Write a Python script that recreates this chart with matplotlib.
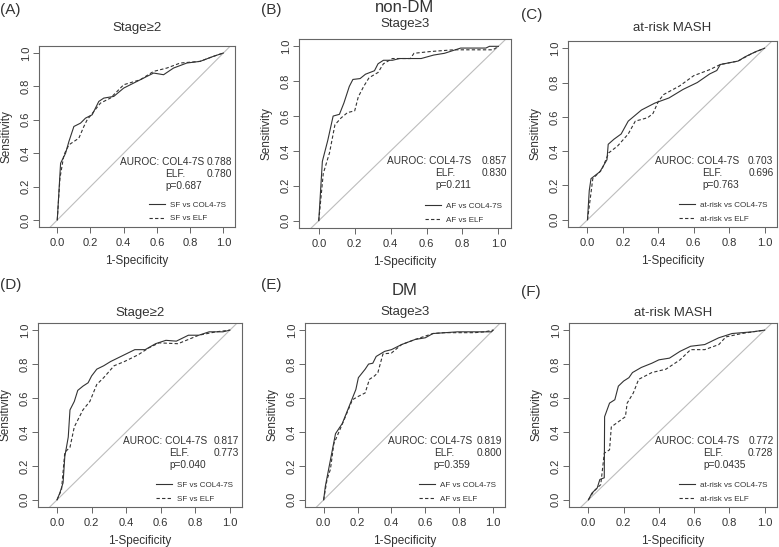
import numpy as np
import matplotlib
matplotlib.use('Agg')
import matplotlib.pyplot as plt

plt.rcParams['font.family'] = ['Liberation Sans', 'DejaVu Sans']

# ---- data (1-specificity, sensitivity) ----
a_col_x = [0, .02, .05, .07, .10, .14, .17, .21, .25, .28, .34, .40, .50, .58, .64, .70, .78, .86, .94, 1]
a_col_y = [0, .34, .40, .47, .56, .58, .61, .63, .71, .73, .74, .79, .84, .88, .87, .91, .94, .95, .98, 1]
a_elf_x = [0, .016, .04, .07, .10, .13, .16, .18, .22, .26, .32, .40, .50, .58, .66, .74, .86, .94, 1]
a_elf_y = [0, .25, .39, .45, .47, .49, .56, .60, .65, .70, .73, .81, .84, .89, .91, .94, .95, .98, 1]

b_col_x = [0, .02, .05, .08, .115, .14, .17, .19, .23, .26, .31, .33, .36, .41, .45, .57, .64, .70, .79, .93, .95, 1]
b_col_y = [0, .34, .46, .60, .61, .675, .77, .81, .815, .84, .86, .90, .92, .92, .93, .93, .95, .96, .99, .99, 1, 1]
b_elf_x = [0, .025, .06, .09, .125, .16, .20, .22, .25, .28, .33, .36, .41, .51, .53, .62, .75, .97, 1]
b_elf_y = [0, .27, .39, .55, .59, .62, .63, .71, .77, .82, .85, .90, .93, .93, .96, .97, .98, .98, 1]

c_col_x = [0, .01, .02, .07, .11, .117, .15, .19, .23, .305, .38, .46, .54, .62, .69, .73, .75, .85, .89, .95, 1]
c_col_y = [0, .17, .24, .28, .35, .44, .47, .50, .575, .64, .68, .71, .76, .80, .85, .87, .905, .925, .95, .98, 1]
c_elf_x = [0, .014, .03, .08, .12, .17, .23, .27, .34, .37, .40, .43, .52, .60, .69, .75, .85, .93, 1]
c_elf_y = [0, .11, .24, .29, .39, .43, .50, .575, .595, .62, .69, .73, .78, .84, .875, .905, .925, .97, 1]

d_col_x = [0, .016, .035, .045, .065, .075, .10, .12, .15, .18, .20, .23, .27, .31, .39, .45, .51, .57, .63, .69, .76, .82, .88, .96, 1]
d_col_y = [0, .04, .10, .255, .37, .53, .58, .645, .67, .69, .73, .77, .79, .815, .855, .885, .885, .92, .94, .935, .97, .97, .99, .99, 1]
d_elf_x = [0, .026, .045, .075, .10, .15, .19, .23, .27, .33, .39, .47, .53, .59, .70, .76, .82, .92, 1]
d_elf_y = [0, .06, .28, .31, .43, .53, .58, .68, .72, .79, .815, .855, .895, .925, .92, .945, .97, .99, 1]

e_col_x = [0, .01, .04, .07, .11, .15, .19, .205, .245, .265, .29, .31, .36, .40, .46, .54, .60, .645, .79, .99, 1]
e_col_y = [0, .08, .235, .39, .45, .55, .65, .72, .77, .80, .805, .845, .875, .885, .915, .945, .955, .98, .99, .99, 1]
e_elf_x = [0, .02, .04, .06, .12, .17, .205, .245, .27, .30, .32, .35, .40, .46, .54, .60, .645, .71, .89, .95, 1]
e_elf_y = [0, .12, .18, .33, .47, .59, .61, .63, .71, .73, .75, .86, .865, .915, .945, .965, .98, .985, .985, .99, 1]

f_col_x = [0, .02, .05, .065, .09, .092, .12, .15, .17, .20, .23, .25, .30, .36, .40, .46, .52, .58, .66, .74, .815, .93, 1]
f_col_y = [0, .04, .07, .12, .13, .49, .57, .59, .67, .70, .72, .75, .78, .805, .825, .835, .875, .905, .915, .955, .98, .99, 1]
f_elf_x = [0, .03, .07, .08, .09, .12, .13, .17, .21, .22, .255, .285, .36, .44, .52, .58, .66, .74, .78, .87, 1]
f_elf_y = [0, .05, .09, .18, .275, .295, .43, .46, .49, .57, .63, .71, .75, .77, .825, .885, .885, .915, .96, .98, 1]

letters = ['(A)', '(B)', '(C)', '(D)', '(E)', '(F)']
titles = ['Stage\u22652', 'Stage\u22653', 'at-risk MASH', 'Stage\u22652', 'Stage\u22653', 'at-risk MASH']
groups = {1: 'non-DM', 4: 'DM'}
outcome = ['SF', 'AF', 'at-risk', 'SF', 'AF', 'at-risk']
auc_col = ['0.788', '0.857', '0.703', '0.817', '0.819', '0.772']
auc_elf = ['0.780', '0.830', '0.696', '0.773', '0.800', '0.728']
pvals = ['0.687', '0.211', '0.763', '0.040', '0.359', '0.0435']
curves = [(a_col_x, a_col_y, a_elf_x, a_elf_y), (b_col_x, b_col_y, b_elf_x, b_elf_y),
          (c_col_x, c_col_y, c_elf_x, c_elf_y), (d_col_x, d_col_y, d_elf_x, d_elf_y),
          (e_col_x, e_col_y, e_elf_x, e_elf_y), (f_col_x, f_col_y, f_elf_x, f_elf_y)]

# ---- layout in pixels: box left, right, top, bottom ----
W, H = 779, 547
boxes = [(39, 235, 46, 227), (299, 511, 39, 228), (568, 777, 41, 227),
         (38, 242, 323, 507), (305, 505, 323, 507), (569, 777, 323, 507)]
letter_pos = [(0, 10), (261, 10), (521, 15), (0, 285), (261, 285), (521, 292)]
title_y = [28, 24, 28, 313, 312, 313]
group_y = {1: 8, 4: 291}

fig = plt.figure(figsize=(W / 100, H / 100), dpi=100)
line_c = '#333333'
box_c = '#666666'

for i in range(6):
    l, r, t, b = boxes[i]
    ax = fig.add_axes([l / W, 1 - b / H, (r - l) / W, (b - t) / H])
    cx, cy, ex, ey = curves[i]
    ax.plot([-1, 2], [-1, 2], color='#bdbdbd', lw=0.8)
    ax.plot(cx, cy, color=line_c, lw=0.8, label=outcome[i] + ' vs COL4-7S')
    ax.plot(ex, ey, color=line_c, lw=0.8, ls=(0, (3, 2)), label=outcome[i] + ' vs ELF')
    ax.set_xlim(-0.11, 1.07)
    ax.set_ylim(-0.042, 1.042)
    ax.set_xticks(np.arange(0, 1.01, 0.2))
    ax.set_yticks(np.arange(0, 1.01, 0.2))
    ax.set_xticklabels(['%.1f' % v for v in np.arange(0, 1.01, 0.2)])
    ax.set_yticklabels(['%.1f' % v for v in np.arange(0, 1.01, 0.2)], rotation=90, va='center')
    ax.tick_params(labelsize=8, color=box_c, labelcolor='#333333', length=4, width=0.7)
    ax.tick_params(axis='x', pad=4)
    ax.tick_params(axis='y', pad=2)
    for s in ax.spines.values():
        s.set_color(box_c)
        s.set_linewidth(0.8)
    ax.set_xlabel('1-Specificity', fontsize=8.5, color='#333333', labelpad=5)
    ax.set_ylabel('Sensitivity', fontsize=8.5, color='#333333', labelpad=6)

    tkw = dict(fontsize=7.3, color='#333333', va='center')
    ax.text(0.38, 0.345, 'AUROC: COL4-7S', ha='left', **tkw)
    ax.text(1.05, 0.345, auc_col[i], ha='right', **tkw)
    ax.text(0.65, 0.275, 'ELF.', ha='left', **tkw)
    ax.text(1.05, 0.275, auc_elf[i], ha='right', **tkw)
    ax.text(0.65, 0.205, 'p=' + pvals[i], ha='left', **tkw)
    leg = ax.legend(loc='lower right', bbox_to_anchor=(0.99, -0.015), frameon=False,
                    fontsize=5.8, handlelength=2.0, labelspacing=0.75, handletextpad=0.6)
    for txt in leg.get_texts():
        txt.set_color('#333333')

    fig.text(letter_pos[i][0] / W, 1 - letter_pos[i][1] / H, letters[i],
             fontsize=11, color='#333333', va='center', ha='left')
    xc = (l + r) / 2 / W
    fig.text(xc, 1 - title_y[i] / H, titles[i], fontsize=9.5, color='#333333', ha='center', va='center')
    if i in groups:
        fig.text(xc, 1 - group_y[i] / H, groups[i], fontsize=12, color='#333333', ha='center', va='center')

fig.savefig('out.png', dpi=100, facecolor='white')
